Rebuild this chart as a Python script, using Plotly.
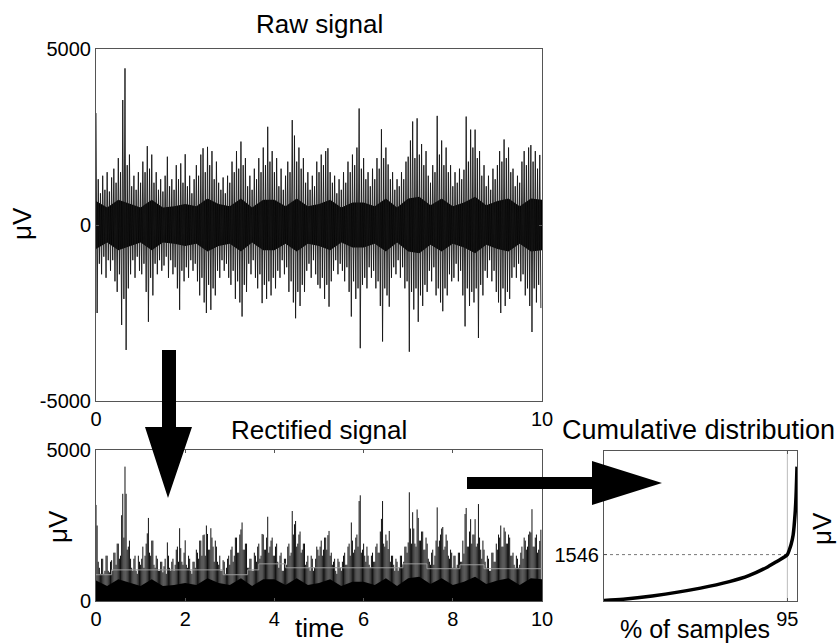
import plotly.graph_objects as go

# ---------------- data ----------------
BIN = 0.05  # seconds between successive peak readings
# positive peaks of the raw signal, one per 0.05 s (each row = 1 s)
raw_pos = [
    3180, 1300, 900, 1400, 1000, 1500, 950, 1350, 1600, 1200, 1900, 1500, 3550, 4450, 1700, 2000, 1100, 1400, 1000, 1500,
    1200, 1800, 1500, 2240, 1600, 2000, 1200, 1500, 1000, 1300, 950, 1400, 1940, 1100, 1300, 1000, 1700, 1300, 1750, 1200,
    2010, 1100, 1400, 900, 1300, 1700, 1400, 2000, 2180, 1500, 2220, 1700, 2100, 1300, 1800, 1200, 1000, 1350, 900, 1400,
    1200, 1800, 1500, 2100, 1600, 2370, 1700, 1900, 1100, 1400, 1000, 1600, 1300, 1900, 1500, 2200, 1700, 2790, 1800, 2100,
    1500, 1900, 1100, 1600, 1000, 1400, 1800, 1500, 2980, 2540, 1800, 2200, 1600, 1900, 1200, 1500, 1000, 1400, 1100, 1800,
    1500, 2000, 1700, 2100, 2180, 1500, 1200, 1400, 900, 1300, 1000, 1500, 1200, 1800, 1500, 2000, 1700, 2200, 3310, 1600,
    1900, 1300, 1500, 1100, 1600, 1300, 1900, 1600, 2720, 1900, 2200, 1720, 1300, 1500, 1000, 1300, 1100, 1500, 1300, 1800,
    1940, 2400, 2940, 1900, 3030, 2000, 2300, 1700, 2100, 1400, 1200, 1700, 1500, 3100, 2000, 2400, 1700, 2200, 1500, 1700,
    1100, 1500, 1200, 1600, 1300, 1570, 3080, 1800, 2710, 2200, 2710, 1900, 2100, 1400, 1700, 1100, 1400, 1000, 1600, 1300,
    1700, 2100, 1800, 2430, 1900, 2200, 1500, 1600, 1100, 1400, 1200, 1800, 2100, 1700, 2200, 2270, 1800, 2100, 1600, 1990,
]
# negative peaks of the raw signal, one per 0.05 s
raw_neg = [
    -2500, -1100, -1400, -900, -1500, -1000, -1300, -1000, -1600, -1900, -1400, -2840, -2100, -3550, -1800, -1400, -1000, -1500, -900, -1300,
    -1400, -1100, -1900, -2750, -1500, -2000, -1100, -1400, -1000, -1300, -1150, -900, -1500, -1000, -1400, -1200, -1800, -2410, -1300, -1600,
    -1200, -1500, -1000, -1300, -1100, -1600, -2000, -1500, -2200, -2500, -1700, -2410, -1800, -2000, -1300, -1500, -1000, -1300, -1100, -1500,
    -1700, -1300, -2100, -1600, -2200, -2600, -1700, -1900, -1100, -1400, -1000, -1500, -1800, -1400, -2220, -1700, -2100, -1600, -2000, -1500,
    -1800, -1300, -1500, -1000, -1400, -1200, -1900, -1600, -2200, -2650, -1900, -2300, -1700, -1900, -1300, -1100, -1500, -1000, -1400, -1700,
    -1800, -1500, -2100, -1700, -2320, -1600, -1300, -1000, -1400, -1100, -1300, -1600, -1200, -1900, -2600, -1600, -2100, -1800, -3500, -1700,
    -1500, -1800, -1200, -1500, -1300, -1800, -1600, -2300, -3310, -1800, -2000, -2320, -1500, -1200, -1400, -1000, -1500, -1200, -1800, -1600,
    -3600, -1900, -2400, -1800, -2750, -2000, -2300, -1700, -1900, -1300, -1600, -1200, -2000, -1800, -2200, -2450, -1800, -2000, -1400, -1600,
    -1500, -1100, -1600, -1300, -2000, -2880, -1800, -2300, -1900, -2200, -1800, -3210, -1700, -2000, -1300, -1500, -1000, -1600, -1300, -1900,
    -2200, -2500, -1800, -2300, -1900, -2100, -1500, -1200, -1500, -1100, -1600, -1400, -2000, -1800, -2300, -3040, -1800, -2200, -1700, -2360,
]
# dense core of the signal (half-width, uV), one reading per 0.25 s
core_t = [i * 0.25 for i in range(41)]
core_uv = [680, 500, 720, 600, 500, 720, 500, 530, 600, 530, 750, 600, 530, 750, 500, 720, 720,
           530, 750, 530, 600, 720, 500, 640, 640, 530, 750, 500, 750, 800, 560, 750, 530,
           640, 800, 560, 680, 750, 530, 750, 720]
# grey step envelope of the rectified signal
step_t = [0.0, 0.35, 2.85, 3.4, 3.65, 4.25, 6.88, 7.42, 8.16, 8.7, 10.0]
step_uv = [870, 1030, 870, 1030, 1230, 1100, 1230, 1070, 1200, 1070, 1070]
# cumulative distribution of the rectified signal
cum_pct = [0, 10, 25, 50, 65, 75, 85, 90, 93, 95, 96, 97, 98, 99, 99.5, 100]
cum_uv = [20, 60, 170, 430, 645, 845, 1144, 1333, 1450, 1546, 1700, 1900, 2200, 2900, 3500, 4478]
P95 = 95
V95 = 1546

raw_yticks = [-5000, 0, 5000]
raw_yticktext = ["-5000", "0", "5000"]
raw_xticks = [0, 10]
rect_yticks = [0, 5000]
rect_xticks = [0, 2, 4, 6, 8, 10]

# ---------------- figure ----------------
W, H = 839, 643
FONT = "Liberation Sans, Arial, Helvetica, sans-serif"


def px(x):
    return x / W


def py(y):
    return 1 - y / H


t_pos = [i * BIN for i in range(len(raw_pos))]
t_neg = [t + BIN / 2 for t in t_pos]

# raw signal drawn through its successive extremes
zx, zy = [], []
for tp, p, tn, n in zip(t_pos, raw_pos, t_neg, raw_neg):
    zx += [tp, tn]
    zy += [p, n]

# rectified signal: stems of |value|
rx, ry = [], []
for tp, p, tn, n in zip(t_pos, raw_pos, t_neg, raw_neg):
    rx += [tp, tp, None, tn, tn, None]
    ry += [0, abs(p), None, 0, abs(n), None]

fig = go.Figure()

# Raw signal
fig.add_trace(go.Scatter(x=core_t + core_t[::-1], y=core_uv + [-v for v in core_uv[::-1]],
                         fill="toself", fillcolor="black", line=dict(width=0),
                         mode="lines", xaxis="x", yaxis="y", hoverinfo="skip"))
fig.add_trace(go.Scatter(x=zx, y=zy, mode="lines", line=dict(color="#151515", width=0.9),
                         xaxis="x", yaxis="y", hoverinfo="skip"))

# Rectified signal
fig.add_trace(go.Scatter(x=rx, y=ry, mode="lines", line=dict(color="#111111", width=1),
                         xaxis="x2", yaxis="y2", hoverinfo="skip"))
fig.add_trace(go.Scatter(x=core_t + core_t[::-1], y=core_uv + [0] * len(core_t),
                         fill="toself", fillcolor="black", line=dict(width=0),
                         mode="lines", xaxis="x2", yaxis="y2", hoverinfo="skip"))
fig.add_trace(go.Scatter(x=step_t, y=step_uv, mode="lines", line=dict(color="#9a9a9a", width=1, shape="hv"),
                         xaxis="x2", yaxis="y2", hoverinfo="skip"))

# Cumulative distribution
fig.add_trace(go.Scatter(x=[P95, P95], y=[0, 5000], mode="lines", line=dict(color="#bbbbbb", width=1),
                         xaxis="x3", yaxis="y3", hoverinfo="skip"))
fig.add_trace(go.Scatter(x=[0, P95], y=[V95, V95], mode="lines", line=dict(color="#777777", width=1, dash="dot"),
                         xaxis="x3", yaxis="y3", hoverinfo="skip"))
fig.add_trace(go.Scatter(x=cum_pct, y=cum_uv, mode="lines",
                         line=dict(color="black", width=3.5, shape="spline", smoothing=0.8),
                         xaxis="x3", yaxis="y3", hoverinfo="skip"))

axis_common = dict(showline=True, linecolor="#555555", linewidth=1, mirror="ticks",
                   showgrid=False, zeroline=False, ticks="inside", ticklen=3, tickcolor="#555555",
                   automargin=False,
                   tickfont=dict(size=20, color="black", family=FONT))

fig.update_layout(
    width=W, height=H, margin=dict(l=0, r=0, t=0, b=0, autoexpand=False),
    paper_bgcolor="white", plot_bgcolor="white", showlegend=False,
    font=dict(family=FONT, color="black"),
    xaxis=dict(domain=[px(96), px(542)], range=[0, 10], tickvals=raw_xticks, anchor="y", **axis_common),
    yaxis=dict(domain=[py(401), py(49)], range=[-5000, 5000], tickvals=raw_yticks, ticktext=raw_yticktext,
               anchor="x", **axis_common),
    xaxis2=dict(domain=[px(96), px(542)], range=[0, 10], tickvals=rect_xticks, anchor="y2", **axis_common),
    yaxis2=dict(domain=[py(601), py(450)], range=[0, 5000], tickvals=rect_yticks, anchor="x2", **axis_common),
    xaxis3=dict(domain=[px(604), px(797)], range=[0, 100], tickvals=[P95], anchor="y3", **axis_common),
    yaxis3=dict(domain=[py(601), py(451)], range=[0, 5000], tickvals=[V95], anchor="x3", **axis_common),
)


def label(text, x, y, size=26, angle=0):
    fig.add_annotation(text=text, x=px(x), y=py(y), xref="paper", yref="paper",
                       xanchor="center", yanchor="middle", showarrow=False, textangle=angle,
                       font=dict(size=size, color="black", family=FONT))


label("Raw signal", 319, 24)
label("Rectified signal", 319, 430)
label("Cumulative distribution", 698, 430, size=27)
label("μV", 22, 224, angle=-90)
label("μV", 58, 527, angle=-90)
label("μV", 822, 529, angle=-90)
label("time", 319, 628)
label("% of samples", 695, 629, size=25)


def poly(points):
    d = "M " + " L ".join(f"{px(x):.5f},{py(y):.5f}" for x, y in points) + " Z"
    fig.add_shape(type="path", path=d, xref="paper", yref="paper",
                  fillcolor="black", line=dict(color="black", width=0))


# down arrow (raw -> rectified)
poly([(162, 350), (176, 350), (176, 427), (192, 427), (168, 498), (145, 427), (162, 427)])
# right arrow (rectified -> cumulative)
poly([(467, 477), (592, 477), (592, 461), (662, 483), (592, 505), (592, 489), (467, 489)])

fig.write_html("out.html", config={"displayModeBar": False},
               post_script="document.body.style.margin='0';document.body.style.overflow='hidden';")
